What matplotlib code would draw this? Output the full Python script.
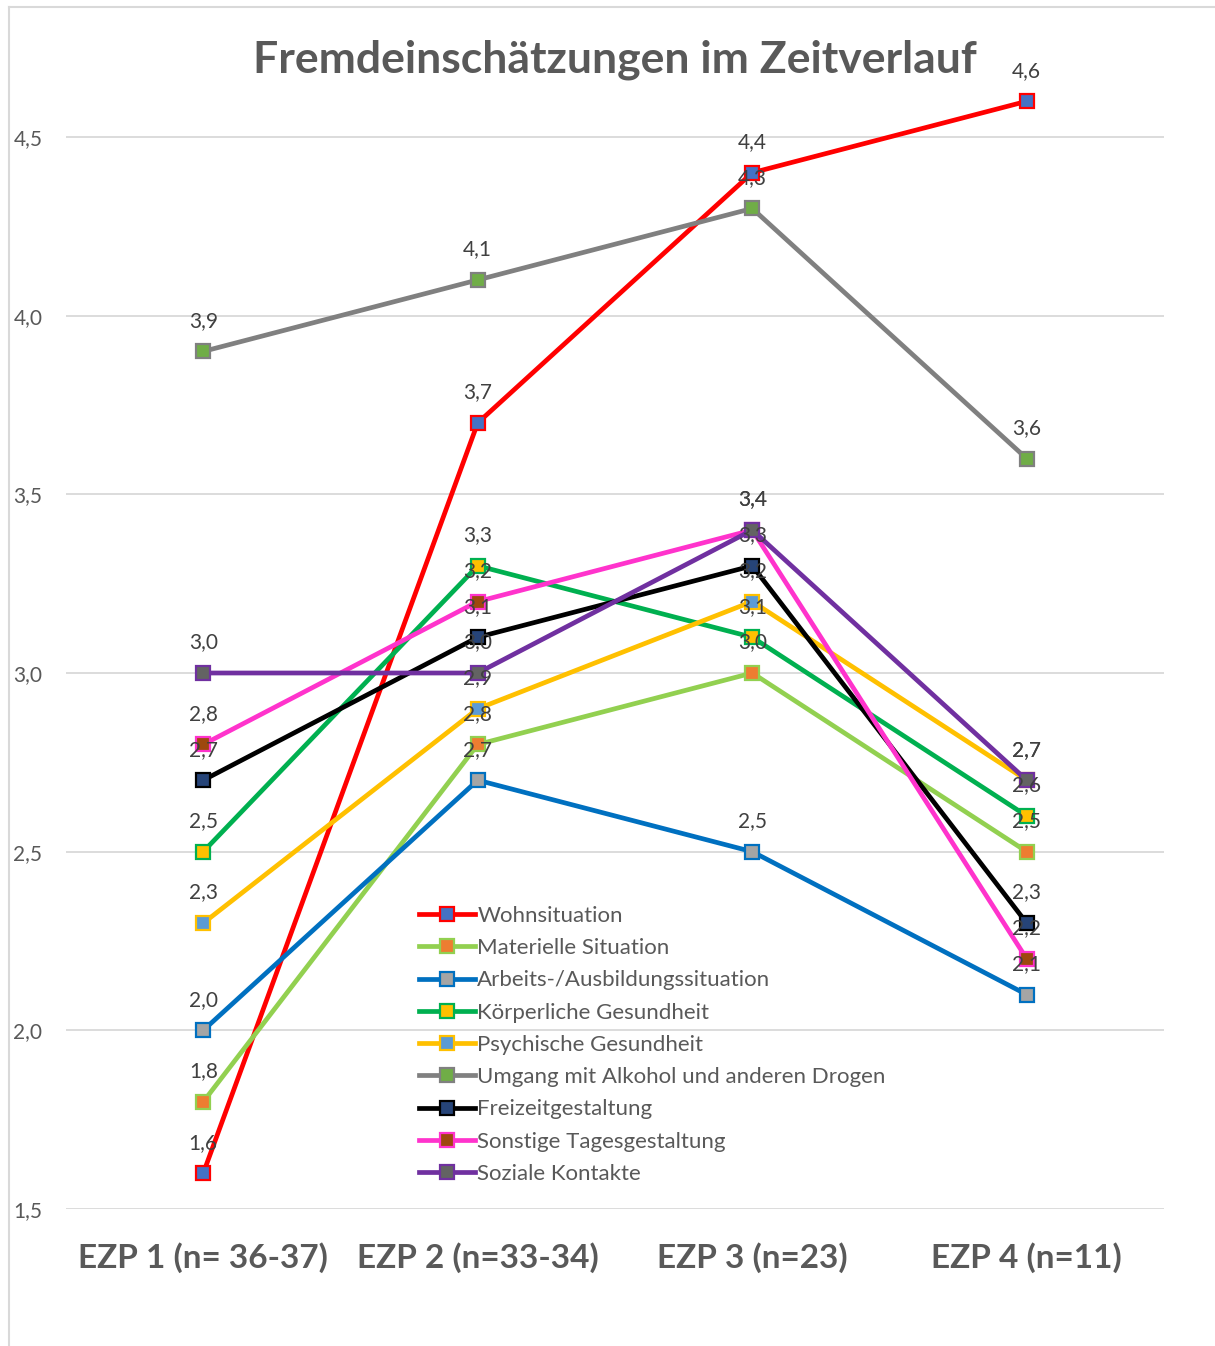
import matplotlib
matplotlib.use('Agg')
import matplotlib.pyplot as plt
from matplotlib.lines import Line2D

matplotlib.rcParams['font.family'] = ['Lato', 'DejaVu Sans']

categories = ['EZP 1 (n= 36-37)', 'EZP 2 (n=33-34)', 'EZP 3 (n=23)', 'EZP 4 (n=11)']

wohnsituation = [1.6, 3.7, 4.4, 4.6]
materielle = [1.8, 2.8, 3.0, 2.5]
arbeit = [2.0, 2.7, 2.5, 2.1]
koerperlich = [2.5, 3.3, 3.1, 2.6]
psychisch = [2.3, 2.9, 3.2, 2.7]
alkohol = [3.9, 4.1, 4.3, 3.6]
freizeit = [2.7, 3.1, 3.3, 2.3]
tagesgestaltung = [2.8, 3.2, 3.4, 2.2]
soziale = [3.0, 3.0, 3.4, 2.7]

# (label, values, line colour, marker face colour)
series = [
    ('Wohnsituation', wohnsituation, '#FF0000', '#4472C4'),
    ('Materielle Situation', materielle, '#92D050', '#ED7D31'),
    ('Arbeits-/Ausbildungssituation', arbeit, '#0070C0', '#A5A5A5'),
    ('Körperliche Gesundheit', koerperlich, '#00B050', '#FFC000'),
    ('Psychische Gesundheit', psychisch, '#FFC000', '#5B9BD5'),
    ('Umgang mit Alkohol und anderen Drogen', alkohol, '#808080', '#70AD47'),
    ('Freizeitgestaltung', freizeit, '#000000', '#264478'),
    ('Sonstige Tagesgestaltung', tagesgestaltung, '#FF33CC', '#9E480E'),
    ('Soziale Kontakte', soziale, '#7030A0', '#636363'),
]

yticks = [1.5, 2.0, 2.5, 3.0, 3.5, 4.0, 4.5]

fig = plt.figure(figsize=(12.15, 13.46), dpi=100)
W, H = 1215.0, 1346.0
# axes: x -0.5..3.5 spans px 66..1164, y 1.5 at px 1209, 4.5 at px 137
ymax = 4.75
px_per_unit = (1209 - 137) / 3.0
top_px = 137 - (ymax - 4.5) * px_per_unit
ax = fig.add_axes([66 / W, (H - 1209) / H, (1164 - 66) / W, (1209 - top_px) / H])

x = list(range(len(categories)))
handles = []
for i, (label, vals, lc, fc) in enumerate(series):
    ax.plot(x, vals, color=lc, lw=3.4, zorder=3 + i * 0.1, clip_on=False,
            marker='s', markersize=9.5, markerfacecolor=fc, markeredgecolor=lc,
            markeredgewidth=1.6, solid_capstyle='round')
    handles.append(Line2D([0], [0], color=lc, lw=3.4, marker='s', markersize=9.5,
                          markerfacecolor=fc, markeredgecolor=lc, markeredgewidth=1.6))

for label, vals, lc, fc in series:
    for xi, v in zip(x, vals):
        ax.annotate(('%.1f' % v).replace('.', ','), (xi, v), xytext=(0, 22),
                    textcoords='offset points', ha='center', va='center',
                    fontsize=15, color='#404040', zorder=10)

ax.set_xlim(-0.5, 3.5)
ax.set_ylim(1.5, ymax)
ax.set_yticks(yticks)
ax.set_yticklabels([('%.1f' % t).replace('.', ',') for t in yticks],
                   fontsize=15, color='#595959')
ax.set_xticks(x)
ax.set_xticklabels(categories, fontsize=24, fontweight='bold', color='#595959')
ax.tick_params(axis='y', length=0, pad=17)
ax.tick_params(axis='x', length=0, pad=24)
ax.grid(axis='y', color='#D9D9D9', lw=1.3)
ax.set_axisbelow(True)
for s in ax.spines.values():
    s.set_visible(False)

fig.text(615 / W, 1 - 60 / H, 'Fremdeinschätzungen im Zeitverlauf', ha='center',
         va='center', fontsize=32, fontweight='bold', color='#595959')

leg = ax.legend(handles, [s[0] for s in series], loc='upper left',
                bbox_to_anchor=(419 / W, 1 - 906 / H), bbox_transform=fig.transFigure,
                frameon=False, fontsize=16, handlelength=2.5, handletextpad=0.12,
                labelspacing=0.55, borderaxespad=0, borderpad=0)
for t in leg.get_texts():
    t.set_color('#595959')

# outer chart frame
fig.add_artist(Line2D([9 / W, 9 / W], [0, 1 - 7 / H], color='#D9D9D9', lw=1.5,
                      transform=fig.transFigure))
fig.add_artist(Line2D([9 / W, 1], [1 - 7 / H, 1 - 7 / H], color='#D9D9D9', lw=1.5,
                      transform=fig.transFigure))

fig.savefig('out.png', dpi=100)
